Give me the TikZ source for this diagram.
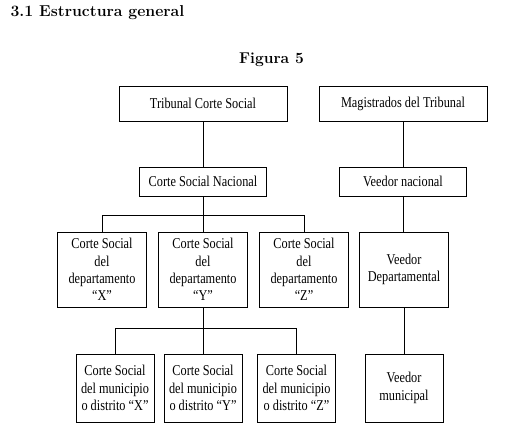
\documentclass[tikz,border=0pt]{standalone}
\usepackage{fontspec}
\newfontfamily\boxfont[FakeStretch=0.82]{Liberation Serif}
\usepackage{tikz}
\usetikzlibrary{positioning}

\begin{document}
\begin{tikzpicture}[x=1pt, y=1pt, on grid,
        unit/.style = {draw, line width=0.8pt, inner sep=0pt, align=center,
                       font=\boxfont\fontsize{15}{17.3}\selectfont},
        wide/.style = {unit, minimum width=168pt, minimum height=35pt},
        mid/.style  = {unit, minimum width=127pt, minimum height=29pt},
        dept/.style = {unit, minimum width=89pt, minimum height=75pt},
        muni/.style = {unit, minimum width=78pt, minimum height=68pt}]
        \useasboundingbox (0,0) rectangle (516,-435);

        \node (title) [anchor=base west, font=\bfseries\fontsize{15.8}{18}\selectfont]
              at (7,-16.5) {3.1 Estructura general};
        \node (fig) [anchor=base, font=\bfseries\fontsize{15.6}{18}\selectfont]
              at (271.5,-63.5) {Figura 5};

        % courts
        \node (trib) [wide] at (203,-103.5) {Tribunal Corte Social};
        \node (csn) [mid, below = 78pt of trib] {Corte Social Nacional};
        \node (depY) [dept, below = 88pt of csn] {Corte Social\\del\\departamento\\“Y”};
        \node (depX) [dept, left = 101pt of depY] {Corte Social\\del\\departamento\\“X”};
        \node (depZ) [dept, right = 101pt of depY] {Corte Social\\del\\departamento\\“Z”};
        \node (munY) [muni, below = 118.5pt of depY] {Corte Social\\del municipio\\o distrito “Y”};
        \node (munX) [muni, left = 88pt of munY] {Corte Social\\del municipio\\o distrito “X”};
        \node (munZ) [muni, right = 93.5pt of munY] {Corte Social\\del municipio\\o distrito “Z”};

        % veedores
        \node (mag) [wide, right = 200pt of trib] {Magistrados del Tribunal};
        \node (vn) [mid, below = 78pt of mag] {Veedor nacional};
        \node (vd) [dept, right = 201pt of depY] {Veedor\\Departamental};
        \node (vm) [muni, below = 118.5pt of vd] {Veedor\\municipal};

        \coordinate (busA) at ([yshift=-19pt]csn.south);
        \coordinate (busB) at ([yshift=-21pt]depY.south);

        \path [draw, line width=0.8pt]
          (trib) -- (csn)
          (csn) -- (depY)
          (depX.north) |- (busA) -| (depZ.north)
          (depY) -- (munY)
          (munX.north) |- (busB) -| (munZ.north)
          (mag) -- (vn)
          (vn.south) -- (vn.south |- vd.north)
          (vd) -- (vm);
\end{tikzpicture}
\end{document}
